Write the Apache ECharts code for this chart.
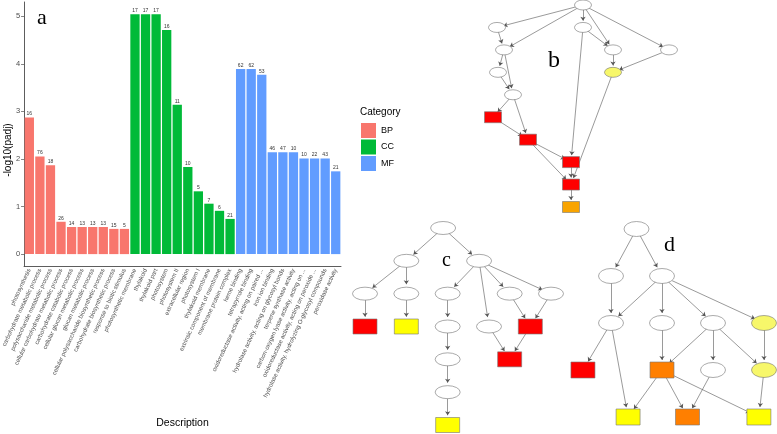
<!DOCTYPE html>
<html><head><meta charset="utf-8">
<script src="https://cdn.jsdelivr.net/npm/echarts@6/dist/echarts.min.js"></script>
<style>html,body{margin:0;padding:0;background:#fff}#c{width:777px;height:434px}</style>
</head><body><div id="c"></div>
<script>
// ---------- Panel a data ----------
const bpTerms = ['photosynthesis','carbohydrate metabolic process','polysaccharide metabolic process','cellular carbohydrate metabolic process','carbohydrate catabolic process','cellular glucan metabolic process','glucan metabolic process','cellular polysaccharide biosynthetic process','carbohydrate biosynthetic process','response to biotic stimulus'];
const ccTerms = ['photosynthetic membrane','thylakoid','thylakoid part','photosystem','photosystem II','extracellular region','photosystem I','thylakoid membrane','extrinsic component of membrane','membrane protein complex'];
const mfTerms = ['heme binding','tetrapyrrole binding','oxidoreductase activity, acting on paired ...','iron ion binding','hydrolase activity, acting on glycosyl bonds','terpene synthase activity','carbon-oxygen lyase activity, acting on ...','oxidoreductase activity, acting on peroxide ...','hydrolase activity, hydrolyzing O-glycosyl compounds','peroxidase activity'];
const bpValues = [2.87,2.05,1.87,0.68,0.57,0.57,0.57,0.57,0.53,0.53];
const ccValues = [5.04,5.04,5.04,4.71,3.14,1.83,1.32,1.06,0.91,0.74];
const mfValues = [3.89,3.89,3.77,2.14,2.14,2.14,2.01,2.01,2.01,1.74];
const bpCounts = [16,76,18,26,14,13,13,13,15,5];
const ccCounts = [17,17,17,16,11,10,5,7,6,21];
const mfCounts = [62,62,53,46,47,10,10,22,43,21];
const categoryNames = ['BP','CC','MF'];
const yTicks = [0,1,2,3,4,5];

// ---------- Panels b, c, d: GO DAGs [name, column, level, kind] ----------
const bNodes = [['b0',9.3,0,'e'],['b1',0.7,1,'e'],['b2',1.4,2,'e'],['b3',0.8,3,'e'],['b4',2.3,4,'e'],['b5',0.3,5,'r'],['b6',3.8,6,'r'],['b7',9.3,1,'e'],['b8',12.3,2,'e'],['b9',17.9,2,'e'],['b10',12.3,3,'E'],['b11',8.1,7,'r'],['b12',8.1,8,'r'],['b13',8.1,9,'o']];
const bLinks = [['b0','b1'],['b0','b2'],['b0','b7'],['b0','b8'],['b0','b9'],['b1','b2'],['b2','b3'],['b2','b4'],['b3','b4'],['b4','b5'],['b4','b6'],['b5','b6'],['b6','b11'],['b6','b12'],['b7','b8'],['b7','b11'],['b8','b10'],['b9','b10'],['b10','b12'],['b11','b12'],['b12','b13']];
const cNodes = [['c0',1.89,0,'e'],['c1',1,1,'e'],['c2',2.76,1,'e'],['c3',0,2,'e'],['c4',1,2,'e'],['c5',2,2,'e'],['c6',3.5,2,'e'],['c7',4.5,2,'e'],['c8',0,3,'r'],['c9',1,3,'y'],['c10',2,3,'e'],['c11',3,3,'e'],['c12',4,3,'r'],['c13',3.5,4,'r'],['c14',2,4,'e'],['c15',2,5,'e'],['c16',2,6,'y']];
const cLinks = [['c0','c1'],['c0','c2'],['c1','c3'],['c1','c4'],['c3','c8'],['c4','c9'],['c2','c5'],['c2','c11'],['c2','c6'],['c2','c7'],['c5','c10'],['c10','c14'],['c14','c15'],['c15','c16'],['c6','c12'],['c7','c12'],['c11','c13'],['c12','c13']];
const dNodes = [['d0',1,0,'e'],['d1',0,1,'e'],['d2',2,1,'e'],['d3',0,2,'e'],['d4',2,2,'e'],['d5',4,2,'e'],['d6',6,2,'E'],['d7',-1.1,3,'r'],['d8',2,3,'O'],['d9',4,3,'e'],['d10',6,3,'E'],['d11',0.67,4,'y'],['d12',3,4,'O'],['d13',5.8,4,'y']];
const dLinks = [['d0','d1'],['d0','d2'],['d1','d3'],['d2','d3'],['d2','d4'],['d2','d5'],['d2','d6'],['d3','d7'],['d3','d11'],['d4','d8'],['d5','d8'],['d5','d9'],['d5','d10'],['d6','d10'],['d8','d11'],['d8','d12'],['d8','d13'],['d9','d12'],['d10','d13']];

// ---------- styles ----------
const colors = {BP:'#F8766D', CC:'#00BA38', MF:'#619CFF'};
const ELLIPSE = 'path://M0,10A10,10,0,1,1,20,10A10,10,0,1,1,0,10Z';
const kindStyle = {
  e:{shape:ELLIPSE, fill:'#ffffff'},
  E:{shape:ELLIPSE, fill:'#F7F76A'},
  r:{shape:'rect', fill:'#FF0000'},
  y:{shape:'rect', fill:'#FFFF00'},
  o:{shape:'rect', fill:'#F9A400'},
  O:{shape:'rect', fill:'#FF7F00'}
};

const allTerms = bpTerms.concat(ccTerms, mfTerms);
function pad(arr, before, after){ return Array(before).fill(null).concat(arr, Array(after).fill(null)); }
const n = 10;
const barSeries = [
  {name:'BP', vals:pad(bpValues,0,2*n), cnt:pad(bpCounts,0,2*n)},
  {name:'CC', vals:pad(ccValues,n,n), cnt:pad(ccCounts,n,n)},
  {name:'MF', vals:pad(mfValues,2*n,0), cnt:pad(mfCounts,2*n,0)}
].map(s => ({
  type:'bar', name:s.name, stack:'all', xAxisIndex:0, yAxisIndex:0,
  barCategoryGap:'12%',
  itemStyle:{color:colors[s.name]},
  label:{show:true, position:'top', distance:1, fontSize:5, color:'#333', fontFamily:'Liberation Sans',
         formatter: p => s.cnt[p.dataIndex]},
  data:s.vals
}));

function graphSeries(nodes, links, idx, ellSize, rectSize){
  return {
    type:'graph', coordinateSystem:'cartesian2d', xAxisIndex:idx, yAxisIndex:idx,
    silent:true, roam:false,
    edgeSymbol:['none','arrow'], edgeSymbolSize:[0,4],
    lineStyle:{color:'#555', width:0.6, opacity:1, curveness:0},
    label:{show:false},
    data: nodes.map(nd => {
      const st = kindStyle[nd[3]];
      return {name:nd[0], value:[nd[1], nd[2]], symbol:st.shape,
              symbolSize: st.shape==='rect' ? rectSize : ellSize,
              itemStyle:{color:st.fill, borderColor:'#777', borderWidth:0.6}};
    }),
    links: links.map(l => ({source:l[0], target:l[1]}))
  };
}

const hiddenAxis = (grid, min, max, inverse) => ({type:'value', gridIndex:grid, min, max, inverse:!!inverse, show:false});

const chart = echarts.init(document.getElementById('c'), null, {renderer:'canvas'});
chart.setOption({
  animation:false,
  backgroundColor:'#fff',
  textStyle:{fontFamily:'Liberation Sans'},
  title:[
    {text:'a', left:32, top:2, textStyle:{fontFamily:'Liberation Serif', fontSize:22, fontWeight:'normal', color:'#000'}},
    {text:'Category', left:355, top:102, textStyle:{fontFamily:'Liberation Sans', fontSize:10, fontWeight:'normal', color:'#000'}},
    {text:'b', left:543, top:44, textStyle:{fontFamily:'Liberation Serif', fontSize:24, fontWeight:'normal', color:'#000'}},
    {text:'c', left:437, top:246, textStyle:{fontFamily:'Liberation Serif', fontSize:20, fontWeight:'normal', color:'#000'}},
    {text:'d', left:659, top:229, textStyle:{fontFamily:'Liberation Serif', fontSize:22, fontWeight:'normal', color:'#000'}}
  ],
  graphic:[
    {type:'text', x:3, y:150, rotation:Math.PI/2,
     style:{text:'-log10(padj)', fontSize:10, fill:'#000', fontFamily:'Liberation Sans', align:'center', verticalAlign:'top'}}
  ],
  legend:{data:categoryNames, orient:'vertical', left:356, top:118, itemWidth:15, itemHeight:15, itemGap:1.5,
          icon:'rect', textStyle:{fontSize:9, color:'#000'}},
  grid:[
    {left:22, top:2, width:319, height:264},
    {left:490, top:5, width:200, height:202},
    {left:365, top:228, width:186, height:197},
    {left:580.4, top:229, width:183.6, height:188}
  ],
  xAxis:[
    {type:'category', gridIndex:0, data:allTerms,
     name:'Description', nameLocation:'middle', nameGap:152,
     nameTextStyle:{fontSize:10.5, color:'#000'},
     axisLine:{onZero:false, lineStyle:{color:'#333', width:0.8}},
     axisTick:{alignWithLabel:true, length:3, lineStyle:{color:'#333', width:0.6}},
     axisLabel:{interval:0, rotate:65, fontSize:6, color:'#4d4d4d', margin:3}},
    hiddenAxis(1,0,20), hiddenAxis(2,0,4.5), hiddenAxis(3,-1.2,6)
  ],
  yAxis:[
    {type:'value', gridIndex:0, min:-0.25, max:5.3,
     splitLine:{show:false},
     axisLine:{show:true, lineStyle:{color:'#333', width:0.8}},
     axisTick:{show:true, length:3, customValues:yTicks, lineStyle:{color:'#333', width:0.6}},
     axisLabel:{customValues:yTicks, fontSize:7.5, color:'#4d4d4d', margin:4}},
    hiddenAxis(1,0,9,true), hiddenAxis(2,0,6,true), hiddenAxis(3,0,4,true)
  ],
  series: barSeries.concat([
    graphSeries(bNodes, bLinks, 1, [17,10], [17,11]),
    graphSeries(cNodes, cLinks, 2, [25,13], [24,15]),
    graphSeries(dNodes, dLinks, 3, [25,15], [24,16])
  ])
});
</script></body></html>
